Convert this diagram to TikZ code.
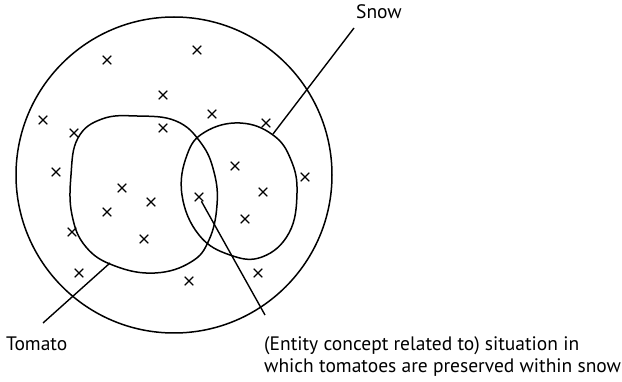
\documentclass[tikz,border=0pt]{standalone}
\usepackage{fontspec}
\setmainfont{PT Sans}
\usepackage{tikz}
\usetikzlibrary{shapes.misc}

\tikzset{
	xmark/.style={cross out, draw, line width=1.1pt, minimum size=7.5pt, inner sep=0pt},
	blob/.style={line width=1.5pt},
	leader/.style={line width=1.4pt},
	lbl/.style={font=\fontsize{19.5}{22.5}\selectfont, inner sep=0pt}
}

\begin{document}
\begin{tikzpicture}[x=1pt, y=-1pt]
	\useasboundingbox (0,0) rectangle (622,382);

	% whole space of entities
	\draw[blob] (174,175) circle (158);

	% Tomato region
	\draw[blob] plot[smooth cycle, tension=0.7] coordinates {
		(137,116) (176,121) (201,143) (214,172) (217,205) (209,240)
		(191,262) (155,273) (115,266) (86,247) (72,215) (71,175)
		(78,138) (102,119)};

	% Snow region
	\draw[blob] plot[smooth cycle, tension=0.7] coordinates {
		(240,123) (273,135) (291,160) (297,193) (289,233) (262,257)
		(230,255) (199,235) (182,195) (187,155) (205,132)};

	% crosses
	\foreach \px/\py [count=\i] in {107/60, 197/50, 163/95, 212/114, 43/120,
		74/133, 163/128, 266/123, 56/172, 122/188, 151/202, 107/212,
		199/197, 235/166, 263/192, 305/177, 245/219, 72/232, 144/239,
		79/273, 189/281, 258/273}
		\node[xmark] (x\i) at (\px,\py) {};

	% labels
	\node[lbl, anchor=base west] (snow) at (356,19) {Snow};
	\node[lbl, anchor=base west] (tomato) at (6,351) {Tomato};
	\node[lbl, anchor=north west, align=left] (situation) at (264,336)
		{(Entity concept related to) situation in\\which tomatoes are preserved within snow};

	% leader lines
	\coordinate (snowin) at (273,134);
	\coordinate (snowout) at (354,28);
	\coordinate (tomatoin) at (110,263);
	\coordinate (tomatoout) at (43,323);
	\coordinate (sitout) at (265,315);
	\draw[leader] (snowin) -- (snowout);
	\draw[leader] (tomatoin) -- (tomatoout);
	\draw[leader] (x13) -- (sitout);

\end{tikzpicture}
\end{document}
